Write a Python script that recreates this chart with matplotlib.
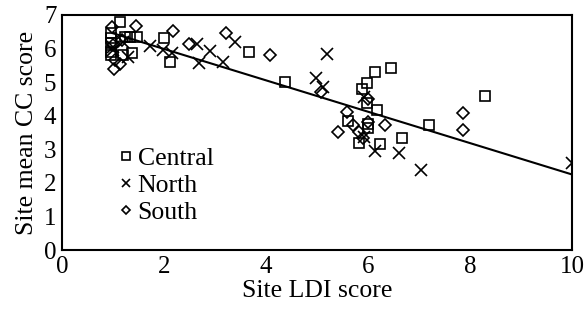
import matplotlib
matplotlib.use("Agg")
import matplotlib.pyplot as plt
import numpy as np

plt.rcParams['font.family'] = ['Liberation Serif', 'DejaVu Serif']

central_x = [1.13, 0.97, 0.97, 0.97, 0.97, 0.97, 1.23, 1.33, 1.47, 1.37, 1.19, 2.0, 2.11, 3.66,
             4.37, 5.97, 6.13, 6.44, 5.89, 5.97, 6.18, 5.6, 6.0, 6.0, 5.83, 6.24, 6.67, 7.2, 8.3]
central_y = [6.79, 6.46, 6.31, 6.16, 5.9, 5.8, 6.34, 6.34, 6.34, 5.86, 5.8, 6.31, 5.6, 5.9,
             5.0, 4.97, 5.3, 5.42, 4.79, 4.38, 4.17, 3.85, 3.75, 3.62, 3.18, 3.15, 3.33, 3.72, 4.58]

north_x = [1.0, 1.0, 1.2, 1.3, 1.72, 1.97, 2.15, 2.64, 2.9, 2.68, 3.15, 3.4, 5.2, 4.97, 5.11,
           5.92, 5.92, 6.14, 6.61, 7.04, 10.0]
north_y = [6.05, 5.95, 6.2, 5.75, 6.08, 5.95, 5.86, 6.12, 5.93, 5.57, 5.59, 6.19, 5.83, 5.13, 4.86,
           4.55, 3.36, 2.95, 2.89, 2.37, 2.6]

south_x = [0.98, 1.45, 1.17, 1.04, 1.02, 1.14, 1.0, 2.17, 2.49, 3.21, 4.07, 5.07, 5.99, 5.58,
           5.42, 5.71, 5.83, 6.0, 6.34, 5.9, 7.87, 7.87]
south_y = [6.64, 6.67, 6.25, 5.65, 5.38, 5.55, 6.1, 6.52, 6.12, 6.47, 5.8, 4.72, 4.5, 4.12,
           3.51, 3.72, 3.51, 3.8, 3.72, 3.35, 4.07, 3.57]

trend_x = [1.0, 10.0]
trend_intercept = 6.92
trend_slope = -0.467

fig = plt.figure(figsize=(5.85, 3.17), dpi=100)
ax = fig.add_axes([0.106, 0.211, 0.872, 0.742])

ax.plot(central_x, central_y, linestyle='none', marker='s', markersize=7.5,
        markerfacecolor='none', markeredgecolor='black', markeredgewidth=1.2, label='Central')
ax.plot(north_x, north_y, linestyle='none', marker='x', markersize=8.5,
        color='black', markeredgewidth=1.2, label='North')
ax.plot(south_x, south_y, linestyle='none', marker='D', markersize=5.8,
        markerfacecolor='none', markeredgecolor='black', markeredgewidth=1.2, label='South')

tx = np.array(trend_x)
ax.plot(tx, trend_intercept + trend_slope * tx, color='black', linewidth=1.5)

ax.set_xlim(0, 10)
ax.set_ylim(0, 7)
ax.set_xticks([0, 2, 4, 6, 8, 10])
ax.set_yticks(range(0, 8))
ax.tick_params(length=0, labelsize=18, pad=4)
for s in ax.spines.values():
    s.set_linewidth(1.5)
    s.set_color('black')

ax.set_xlabel('Site LDI score', fontsize=18.5, labelpad=2)
ax.set_ylabel('Site mean CC score', fontsize=18.5, labelpad=4)

leg = ax.legend(loc='center left', bbox_to_anchor=(0.075, 0.275), frameon=False,
                fontsize=18.5, handlelength=0.6, handletextpad=0.15, labelspacing=0.17,
                markerscale=0.7, borderpad=0.2)

fig.savefig('out.png', dpi=100)
